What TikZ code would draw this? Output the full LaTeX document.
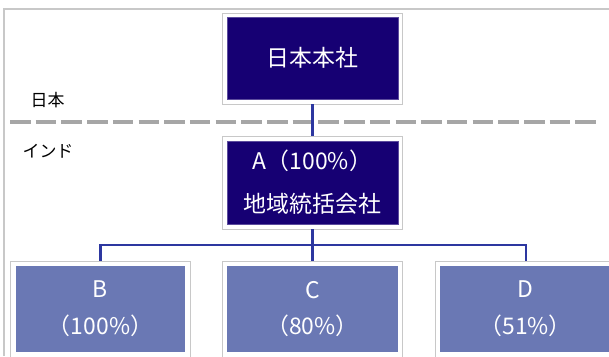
\documentclass[tikz,border=0pt]{standalone}
\usepackage{fontspec}
\setmainfont{Noto Sans CJK JP}
\definecolor{navy}{RGB}{22,0,115}
\definecolor{lightnavy}{RGB}{106,120,180}
\definecolor{conn}{RGB}{45,55,160}
\definecolor{framegray}{RGB}{200,200,200}
\definecolor{dashgray}{RGB}{166,166,166}
\tikzset{
  outerbox/.style={draw=framegray, line width=0.8bp, fill=white, minimum width=180bp, inner sep=0pt},
  darkbox/.style={fill=navy, draw=navy!70!white, line width=0.6bp, minimum width=171bp, text=white, font=\fontsize{23}{27}\selectfont, align=center, inner sep=0pt},
  lightbox/.style={fill=lightnavy, minimum width=169bp, minimum height=86bp, text=white, font=\fontsize{23}{27}\selectfont, align=center, inner sep=0pt},
  connector/.style={draw=conn, line width=2.2bp},
  region/.style={font=\fontsize{17}{19}\selectfont, text=black, inner sep=0pt},
}
\begin{document}
\begin{tikzpicture}[x=1bp,y=1bp]
\useasboundingbox (0,0) rectangle (609,356);
% frame
\draw[framegray, line width=1.6bp] (4,0) -- (4,347) -- (609,347);
% dashed border
\coordinate (dl) at (10,233.7);
\coordinate (dr) at (601,233.7);
\draw[dashgray, line width=4bp, dash pattern=on 20.5bp off 5.2bp] (dl) -- (dr);
% region labels
\node[region] (jp) at (47.5,256) {日本};
\node[region] (in) at (48,205) {インド};
% top box
\node[outerbox, minimum height=91bp] (topo) at (312.5,297.5) {};
\node[darkbox, minimum height=82bp] (top) at (312.5,298) {日本本社};
% A box
\node[outerbox, minimum height=93bp] (Ao) at (312.5,173.5) {};
\node[darkbox, minimum height=83bp] (A) at (312.5,173.5) {A（100\%）\\[16bp]地域統括会社};
% bottom boxes
\node[outerbox, minimum height=100bp] (Bo) at (100.5,45) {};
\node[lightbox] (B) at (100.5,47) {B\\[10bp]（100\%）};
\node[outerbox, minimum height=100bp] (Co) at (312.5,45) {};
\node[lightbox, minimum width=171bp] (C) at (312.5,47) {C\\[10bp]（80\%）};
\node[outerbox, minimum height=100bp] (Do) at (525.7,45) {};
\node[lightbox, minimum width=171bp] (D) at (525.7,47) {D\\[10bp]（51\%）};
% connectors
\draw[connector] (topo.south) -- (Ao.north);
\draw[connector] (Ao.south) -- (Co.north);
\coordinate (bus) at (312.5,111);
\draw[connector] (Bo.north) |- (bus) -| (Do.north);
\end{tikzpicture}
\end{document}
